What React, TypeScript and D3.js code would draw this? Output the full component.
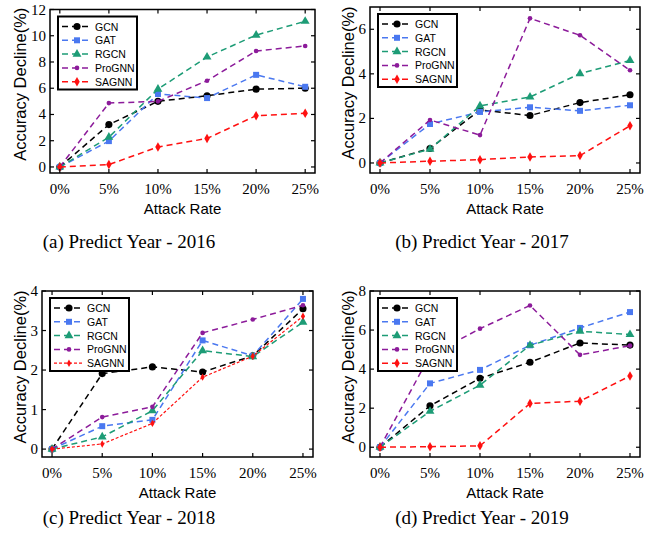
import React from 'react';
import * as d3 from 'd3';

// attack rates (%) on the x axis
const rates = [0, 5, 10, 15, 20, 25];
const rateLabels = ['0%', '5%', '10%', '15%', '20%', '25%'];
const methods = ['GCN', 'GAT', 'RGCN', 'ProGNN', 'SAGNN'];

// accuracy decline (%) per method, one array per predict year
const gcn2016 = [0, 3.23, 5.0, 5.43, 5.93, 6.0];
const gat2016 = [0, 1.97, 5.56, 5.25, 7.02, 6.11];
const rgcn2016 = [0, 2.27, 5.93, 8.38, 10.05, 11.1];
const prognn2016 = [0, 4.87, 5.0, 6.57, 8.84, 9.22];
const sagnn2016 = [0, 0.18, 1.52, 2.17, 3.91, 4.09];

const gcn2017 = [0, 0.65, 2.38, 2.13, 2.71, 3.06];
const gat2017 = [0, 1.75, 2.29, 2.5, 2.34, 2.59];
const rgcn2017 = [0, 0.62, 2.56, 2.96, 4.01, 4.6];
const prognn2017 = [0, 1.93, 1.25, 6.49, 5.73, 4.16];
const sagnn2017 = [0, 0.08, 0.15, 0.27, 0.33, 1.67];

const gcn2018 = [0, 1.91, 2.08, 1.95, 2.36, 3.55];
const gat2018 = [0, 0.58, 0.74, 2.75, 2.36, 3.8];
const rgcn2018 = [0, 0.31, 0.97, 2.49, 2.34, 3.21];
const prognn2018 = [0, 0.81, 1.07, 2.94, 3.28, 3.64];
const sagnn2018 = [0, 0.13, 0.65, 1.82, 2.35, 3.36];

const gcn2019 = [0, 2.12, 3.53, 4.35, 5.34, 5.23];
const gat2019 = [0, 3.27, 3.96, 5.22, 6.11, 6.92];
const rgcn2019 = [0, 1.84, 3.18, 5.22, 5.94, 5.77];
const prognn2019 = [0, 4.7, 6.07, 7.26, 4.73, 5.2];
const sagnn2019 = [0, 0.03, 0.07, 2.24, 2.36, 3.65];

const yTicks2016 = [0, 2, 4, 6, 8, 10, 12];
const yTicks2017 = [0, 2, 4, 6];
const yTicks2018 = [0, 1, 2, 3, 4];
const yTicks2019 = [0, 2, 4, 6, 8];

const colors = ['#000000', '#4a78f0', '#1d9c76', '#8c1b9a', '#ff1010'];
const shapes = [d3.symbolCircle, d3.symbolSquare, d3.symbolTriangle, d3.symbolCircle, d3.symbolDiamond];
const sizes = [40, 36, 34, 17, 26];

const SANS = 'Liberation Sans, Arial, sans-serif';
const SERIF = 'Liberation Serif, Times New Roman, serif';

const panels = [
  { caption: '(a) Predict Year - 2016', series: [gcn2016, gat2016, rgcn2016, prognn2016, sagnn2016], ticks: yTicks2016,
    ymin: -0.46, ymax: 12, left: 50, right: 315, top: 9.5, bottom: 173, titleX: 20, capX: 129, capY: 241 },
  { caption: '(b) Predict Year - 2017', series: [gcn2017, gat2017, rgcn2017, prognn2017, sagnn2017], ticks: yTicks2017,
    ymin: -0.45, ymax: 7, left: 370, right: 640, top: 7, bottom: 173, titleX: 348, capX: 482, capY: 241 },
  { caption: '(c) Predict Year - 2018', series: [gcn2018, gat2018, rgcn2018, prognn2018, sagnn2018], ticks: yTicks2018,
    ymin: -0.2, ymax: 4, left: 42, right: 313, top: 291, bottom: 457, titleX: 20, capX: 129, capY: 517, dottedLast: true },
  { caption: '(d) Predict Year - 2019', series: [gcn2019, gat2019, rgcn2019, prognn2019, sagnn2019], ticks: yTicks2019,
    ymin: -0.5, ymax: 8, left: 370, right: 640, top: 291, bottom: 457, titleX: 348, capX: 482, capY: 517 },
];

function Marker({ i, cx, cy, scale = 1 }: any) {
  const path = d3.symbol().type(shapes[i]).size(sizes[i] * scale)() as string;
  return <path d={path} transform={`translate(${cx},${cy})`} fill={colors[i]} stroke="none" />;
}

function Panel({ p }: any) {
  const x = d3.scaleLinear().domain([-1, 26]).range([p.left, p.right]);
  const y = d3.scaleLinear().domain([p.ymin, p.ymax]).range([p.bottom, p.top]);
  const line = d3.line<number>().x((_, k) => x(rates[k])).y(d => y(d));
  const tl = 4;
  const bx = p.left + 8;
  const by = p.top + 7;

  return (
    <g>
      {p.series.map((s: number[], i: number) => {
        const dotted = p.dottedLast && i === 4;
        return (
          <g key={methods[i]}>
            <path d={line(s) as string} fill="none" stroke={colors[i]} strokeWidth={dotted ? 1.2 : 1.5}
              strokeDasharray={dotted ? '3,2' : '6,4'} />
            {s.map((v, k) => <Marker key={k} i={i} cx={x(rates[k])} cy={y(v)} scale={dotted ? 0.6 : 1} />)}
          </g>
        );
      })}

      {/* frame with inward ticks on all sides */}
      <rect x={p.left} y={p.top} width={p.right - p.left} height={p.bottom - p.top} fill="none" stroke="#000" strokeWidth={1.5} />
      {rates.map(r => (
        <g key={r}>
          <line x1={x(r)} x2={x(r)} y1={p.bottom} y2={p.bottom - tl} stroke="#000" strokeWidth={1.2} />
          <line x1={x(r)} x2={x(r)} y1={p.top} y2={p.top + tl} stroke="#000" strokeWidth={1.2} />
        </g>
      ))}
      {p.ticks.map((t: number) => (
        <g key={t}>
          <line x1={p.left} x2={p.left + tl} y1={y(t)} y2={y(t)} stroke="#000" strokeWidth={1.2} />
          <line x1={p.right} x2={p.right - tl} y1={y(t)} y2={y(t)} stroke="#000" strokeWidth={1.2} />
          <text x={p.left - 4} y={y(t)} textAnchor="end" dominantBaseline="central" fontFamily={SERIF} fontSize={15}>{t}</text>
        </g>
      ))}
      {rates.map((r, k) => (
        <text key={r} x={x(r)} y={p.bottom + 16} textAnchor="middle" dominantBaseline="central" fontFamily={SERIF} fontSize={15}>{rateLabels[k]}</text>
      ))}
      <text x={(p.left + p.right) / 2} y={p.bottom + 35} textAnchor="middle" dominantBaseline="central" fontFamily={SANS} fontSize={15}>Attack Rate</text>
      <text transform={`translate(${p.titleX},${(p.top + p.bottom) / 2 - 7}) rotate(-90)`} textAnchor="middle" dominantBaseline="central"
        fontFamily={SANS} fontSize={16.5}>Accuracy Decline(%)</text>

      {/* legend */}
      <rect x={bx} y={by} width={79} height={73} fill="#fff" stroke="#000" strokeWidth={2} />
      {methods.map((m, i) => {
        const ly = by + 10 + i * 13.8;
        const dotted = p.dottedLast && i === 4;
        return (
          <g key={m}>
            <line x1={bx + 4} x2={bx + 33} y1={ly} y2={ly} stroke={colors[i]} strokeWidth={dotted ? 1.2 : 1.5}
              strokeDasharray={dotted ? '3,2' : '6,4'} />
            <Marker i={i} cx={bx + 19} cy={ly} scale={dotted ? 0.6 : 1} />
            <text x={bx + 37} y={ly} dominantBaseline="central" fontFamily={SANS} fontSize={10.5}>{m}</text>
          </g>
        );
      })}

      <text x={p.capX} y={p.capY} textAnchor="middle" dominantBaseline="central" fontFamily={SERIF} fontSize={19}>{p.caption}</text>
    </g>
  );
}

export default function App() {
  return (
    <svg width={657} height={542} style={{ position: 'absolute', left: 0, top: 0, background: '#fff' }}>
      {panels.map(p => <Panel key={p.caption} p={p} />)}
    </svg>
  );
}
